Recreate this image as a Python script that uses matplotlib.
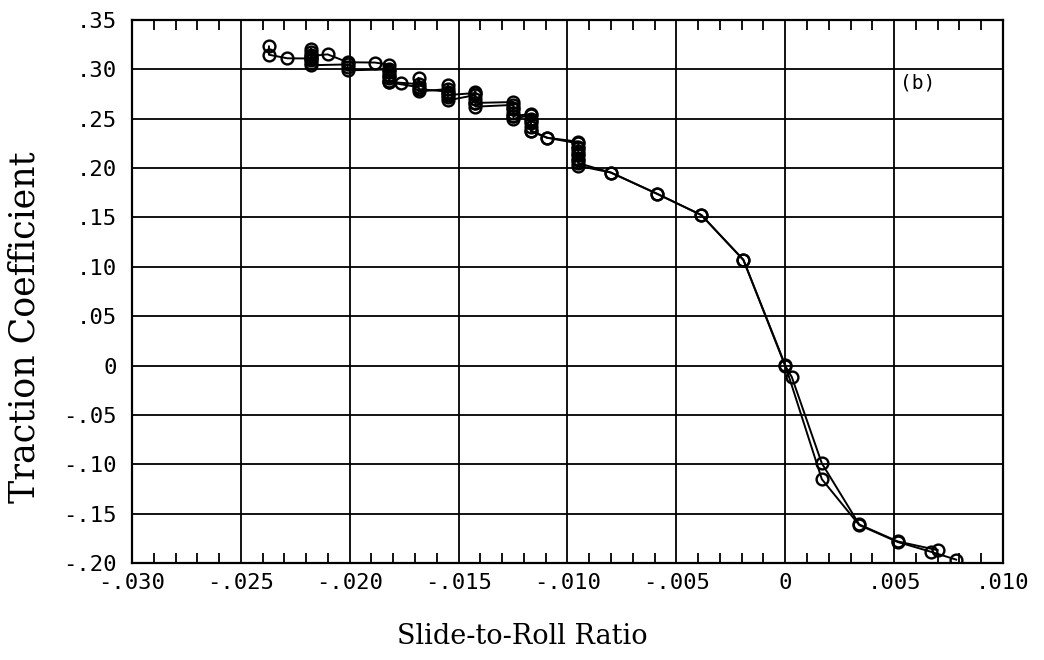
import matplotlib
matplotlib.use('Agg')
import matplotlib.pyplot as plt
from matplotlib.ticker import MultipleLocator

# first sweep (upper branch on the left, lower branch through zero)
slide_1 = [-0.02371, -0.02371, -0.02286, -0.02178, -0.02178, -0.02102, -0.02009,
           -0.01884, -0.01818, -0.01818, -0.01818, -0.01818, -0.01765,
           -0.01684, -0.01684, -0.01684, -0.01549, -0.01549, -0.01549,
           -0.01423, -0.01423, -0.01423, -0.01248, -0.01248, -0.01248,
           -0.01168, -0.01168, -0.01168, -0.01093,
           -0.00950, -0.00950, -0.00950, -0.00950, -0.00950,
           -0.00801, -0.00587, -0.00385, -0.00192, 0.0,
           0.00168, 0.00340, 0.00517, 0.00670, 0.00785]
traction_1 = [0.3232, 0.3148, 0.3112, 0.3110, 0.3135, 0.3152, 0.3072,
              0.3069, 0.3047, 0.2990, 0.2930, 0.2875, 0.2864,
              0.2850, 0.2912, 0.2800, 0.2775, 0.2838, 0.2740,
              0.2760, 0.2774, 0.2660, 0.2669, 0.2610, 0.2530,
              0.2545, 0.2480, 0.2380, 0.2307,
              0.2267, 0.2200, 0.2140, 0.2080, 0.2023,
              0.1955, 0.1738, 0.1524, 0.1070, 0.0005,
              -0.1151, -0.1616, -0.1788, -0.1887, -0.1966]

# second sweep, with the repeated readings at each slide setting
slide_2 = [-0.02178] * 7 + [-0.02009] * 3 + [-0.01818] * 6 + [-0.01684] * 2 + \
          [-0.01549] * 4 + [-0.01423] * 4 + [-0.01248] * 5 + [-0.01168] * 5 + \
          [-0.01093] + [-0.00950] * 6 + \
          [-0.00801, -0.00587, -0.00385, -0.00192, 0.0, 0.00030,
           0.00168, 0.00340, 0.00517, 0.00700]
traction_2 = [0.3210, 0.3180, 0.3150, 0.3120, 0.3090, 0.3065, 0.3042,
              0.3050, 0.3020, 0.2990,
              0.3000, 0.2970, 0.2940, 0.2910, 0.2880, 0.2868,
              0.2820, 0.2777,
              0.2800, 0.2760, 0.2720, 0.2686,
              0.2740, 0.2700, 0.2660, 0.2622,
              0.2640, 0.2600, 0.2560, 0.2530, 0.2497,
              0.2540, 0.2500, 0.2460, 0.2420, 0.2373,
              0.2307,
              0.2250, 0.2210, 0.2170, 0.2130, 0.2090, 0.2050,
              0.1955, 0.1738, 0.1524, 0.1070, -0.0005, -0.0115,
              -0.0990, -0.1610, -0.1782, -0.1870]

x_ticks = [-0.030, -0.025, -0.020, -0.015, -0.010, -0.005, 0.0, 0.005, 0.010]
x_labels = ['-.030', '-.025', '-.020', '-.015', '-.010', '-.005', '0', '.005', '.010']
y_ticks = [-0.20, -0.15, -0.10, -0.05, 0.0, 0.05, 0.10, 0.15, 0.20, 0.25, 0.30, 0.35]
y_labels = ['-.20', '-.15', '-.10', '-.05', '0', '.05', '.10', '.15', '.20', '.25', '.30', '.35']

mono = 'DejaVu Sans Mono'
serif = 'DejaVu Serif'

fig = plt.figure(figsize=(10.44, 6.6), dpi=100)
ax = fig.add_axes([0.1264, 0.1470, 0.8343, 0.8227])

for sx, ty in [(slide_1, traction_1), (slide_2, traction_2)]:
    ax.plot(sx, ty, color='black', linewidth=1.4, marker='o', markersize=8.5,
            markerfacecolor='none', markeredgecolor='black', markeredgewidth=1.7)

ax.set_xlim(-0.030, 0.010)
ax.set_ylim(-0.20, 0.35)
ax.set_xticks(x_ticks)
ax.set_xticklabels(x_labels, fontfamily=mono, fontsize=16)
ax.set_yticks(y_ticks)
ax.set_yticklabels(y_labels, fontfamily=mono, fontsize=16)
ax.xaxis.set_minor_locator(MultipleLocator(0.001))

ax.grid(True, which='major', color='black', linewidth=1.3)
ax.tick_params(axis='both', which='major', length=0)
ax.tick_params(axis='x', which='major', pad=7)
ax.tick_params(axis='y', which='major', pad=11)
ax.tick_params(axis='x', which='minor', direction='in', top=True, bottom=True,
               length=7, width=1.3)
ax.tick_params(axis='y', which='minor', left=False, right=False)
for s in ax.spines.values():
    s.set_linewidth(1.6)

ax.text(0.0061, 0.286, '(b)', fontfamily=mono, fontsize=14, ha='center', va='center')

fig.text(25 / 1044, 1 - 327 / 660, 'Traction Coefficient', rotation=90,
         fontfamily=serif, fontsize=25, ha='center', va='center')
fig.text(522 / 1044, 1 - 636 / 660, 'Slide-to-Roll Ratio',
         fontfamily=serif, fontsize=19.5, ha='center', va='center')

fig.savefig('out.png', dpi=100)
